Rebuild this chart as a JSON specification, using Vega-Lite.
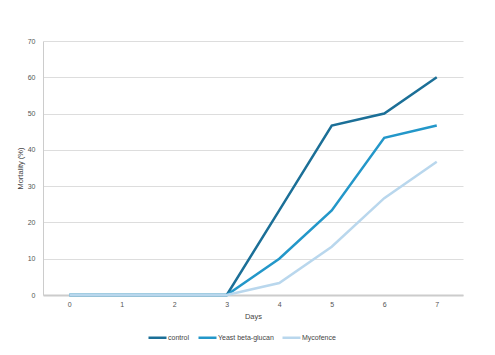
{
  "$schema": "https://vega.github.io/schema/vega-lite/v6.json",
  "width": 420,
  "height": 254,
  "autosize": {"type": "none"},
  "padding": {"left": 43, "top": 41, "right": 32, "bottom": 60},
  "background": "white",
  "config": {
    "font": "Liberation Sans",
    "view": {"stroke": null}
  },
  "data": {
    "values": [
      {"day": 0, "group": "control", "mortality": 0},
      {"day": 1, "group": "control", "mortality": 0},
      {"day": 2, "group": "control", "mortality": 0},
      {"day": 3, "group": "control", "mortality": 0},
      {"day": 4, "group": "control", "mortality": 23.3},
      {"day": 5, "group": "control", "mortality": 46.7},
      {"day": 6, "group": "control", "mortality": 50},
      {"day": 7, "group": "control", "mortality": 60},
      {"day": 0, "group": "Yeast beta-glucan", "mortality": 0},
      {"day": 1, "group": "Yeast beta-glucan", "mortality": 0},
      {"day": 2, "group": "Yeast beta-glucan", "mortality": 0},
      {"day": 3, "group": "Yeast beta-glucan", "mortality": 0},
      {"day": 4, "group": "Yeast beta-glucan", "mortality": 10},
      {"day": 5, "group": "Yeast beta-glucan", "mortality": 23.3},
      {"day": 6, "group": "Yeast beta-glucan", "mortality": 43.3},
      {"day": 7, "group": "Yeast beta-glucan", "mortality": 46.7},
      {"day": 0, "group": "Mycofence", "mortality": 0},
      {"day": 1, "group": "Mycofence", "mortality": 0},
      {"day": 2, "group": "Mycofence", "mortality": 0},
      {"day": 3, "group": "Mycofence", "mortality": 0},
      {"day": 4, "group": "Mycofence", "mortality": 3.3},
      {"day": 5, "group": "Mycofence", "mortality": 13.3},
      {"day": 6, "group": "Mycofence", "mortality": 26.7},
      {"day": 7, "group": "Mycofence", "mortality": 36.7}
    ]
  },
  "mark": {"type": "line", "strokeWidth": 2.5, "strokeJoin": "miter"},
  "encoding": {
    "x": {
      "field": "day",
      "type": "ordinal",
      "title": "Days",
      "scale": {"type": "point", "padding": 0.5},
      "axis": {
        "labelAngle": 0,
        "labelFontSize": 7,
        "labelColor": "#555555",
        "labelPadding": 5,
        "ticks": false,
        "domainColor": "#cccccc",
        "domainWidth": 2,
        "titleFontSize": 7.5,
        "titleFontWeight": "normal",
        "titleColor": "#444444",
        "titlePadding": 5
      }
    },
    "y": {
      "field": "mortality",
      "type": "quantitative",
      "title": "Mortality (%)",
      "scale": {"domain": [0, 70], "nice": false},
      "axis": {
        "values": [0, 10, 20, 30, 40, 50, 60, 70],
        "labelFontSize": 7,
        "labelColor": "#555555",
        "labelPadding": 8,
        "ticks": false,
        "domainColor": "#cccccc",
        "domainWidth": 1,
        "gridColor": "#dddddd",
        "gridWidth": 1,
        "titleFontSize": 7.5,
        "titleFontWeight": "normal",
        "titleColor": "#444444",
        "titlePadding": 3
      }
    },
    "color": {
      "field": "group",
      "type": "nominal",
      "title": null,
      "scale": {
        "domain": ["control", "Yeast beta-glucan", "Mycofence"],
        "range": ["#1b6f97", "#2397c9", "#b9d7ed"]
      },
      "legend": {
        "orient": "none",
        "direction": "horizontal",
        "legendX": 104,
        "legendY": 286,
        "symbolType": "stroke",
        "symbolSize": 324,
        "symbolStrokeWidth": 2.5,
        "labelFontSize": 7,
        "labelColor": "#444444",
        "labelOffset": 0,
        "columnPadding": 3
      }
    }
  }
}
